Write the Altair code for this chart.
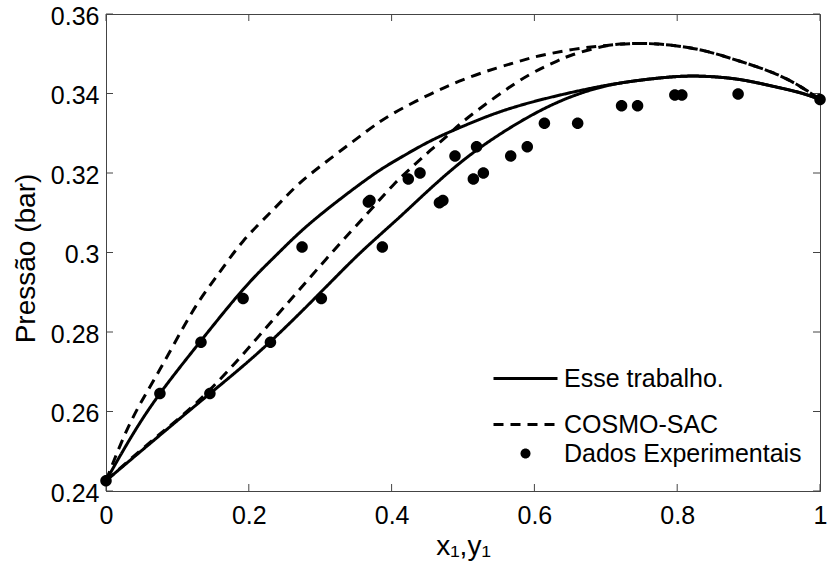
import altair as alt
import pandas as pd

# ---- model curves: "Esse trabalho." (solid) ----
et_vap_x = [0.0, 0.035, 0.0755, 0.133, 0.192, 0.2343, 0.2717, 0.3184, 0.3744, 0.4118, 0.4538,
            0.5005, 0.547, 0.5938, 0.6405, 0.6872, 0.7339, 0.7946, 0.8413, 0.888, 0.9346, 0.972, 1.0]
et_vap_p = [0.2426, 0.2535, 0.2645, 0.2778, 0.2907, 0.2986, 0.3051, 0.3121, 0.3196, 0.3238, 0.3280,
            0.3318, 0.3351, 0.3377, 0.3398, 0.3416, 0.3430, 0.3442, 0.3443, 0.3435, 0.3418, 0.3402, 0.3385]
et_liq_x = [0.0, 0.07, 0.1455, 0.2303, 0.3184, 0.365, 0.4118, 0.4538, 0.5005, 0.547, 0.5938,
            0.6405, 0.6872, 0.7339, 0.7946, 0.8413, 0.888, 0.9346, 0.972, 1.0]
et_liq_p = [0.2426, 0.2532, 0.2645, 0.2776, 0.2932, 0.3014, 0.3090, 0.3160, 0.3232, 0.3292, 0.3343,
            0.3384, 0.3413, 0.3430, 0.3442, 0.3443, 0.3435, 0.3418, 0.3402, 0.3385]

# ---- model curves: "COSMO-SAC" (dashed) ----
cs_vap_x = [0.0, 0.035, 0.0756, 0.12, 0.155, 0.1923, 0.2343, 0.2717, 0.3184, 0.365, 0.4024, 0.4538,
            0.5005, 0.547, 0.5845, 0.6078, 0.6545, 0.7012, 0.748, 0.7946, 0.8413, 0.888, 0.9346, 0.972, 1.0]
cs_vap_p = [0.2426, 0.2575, 0.2706, 0.2848, 0.2940, 0.3029, 0.3108, 0.3175, 0.3242, 0.3305, 0.3350, 0.3398,
            0.3435, 0.3464, 0.3484, 0.3495, 0.3511, 0.3521, 0.3526, 0.3521, 0.3506, 0.3481, 0.3452, 0.3418, 0.3385]
cs_liq_x = [0.0, 0.07, 0.1457, 0.2297, 0.2717, 0.3184, 0.365, 0.4024, 0.4304, 0.4538, 0.477, 0.5005,
            0.547, 0.5938, 0.631, 0.6545, 0.7012, 0.748, 0.7946, 0.8413, 0.888, 0.9346, 0.972, 1.0]
cs_liq_p = [0.2426, 0.2535, 0.2655, 0.2822, 0.2908, 0.3004, 0.3096, 0.3170, 0.3218, 0.3256, 0.3292, 0.3330,
            0.3393, 0.3448, 0.3481, 0.3498, 0.3520, 0.3526, 0.3521, 0.3506, 0.3481, 0.3452, 0.3418, 0.3385]

# ---- experimental data ----
exp_x = [0.0, 0.0755, 0.1455, 0.133, 0.2303, 0.192, 0.3016, 0.2746, 0.387,
         0.3674, 0.3697, 0.467, 0.4718, 0.4234, 0.5145, 0.4398, 0.5285, 0.4888, 0.5668,
         0.519, 0.590, 0.614, 0.6606, 0.7221, 0.7445, 0.7967, 0.8065, 0.8853, 1.0]
exp_p = [0.2426, 0.2645, 0.2645, 0.2774, 0.2774, 0.2884, 0.2884, 0.3014, 0.3014,
         0.3127, 0.3131, 0.3125, 0.3131, 0.3185, 0.3185, 0.3200, 0.3200, 0.3243, 0.3243,
         0.3266, 0.3266, 0.3325, 0.3325, 0.3369, 0.3369, 0.3396, 0.3396, 0.3399, 0.3385]

x_ticks = [0.0, 0.2, 0.4, 0.6, 0.8, 1.0]
y_ticks = [0.24, 0.26, 0.28, 0.30, 0.32, 0.34, 0.36]

LINE_SERIES = ["Esse trabalho.", "COSMO-SAC"]
POINT_SERIES = ["Dados Experimentais"]

W, H = 714, 477
FONT = "Liberation Sans"
AX = "#444444"

rows = []
for name, branch, xs, ps in [
    (LINE_SERIES[0], "vap", et_vap_x, et_vap_p),
    (LINE_SERIES[0], "liq", et_liq_x, et_liq_p),
    (LINE_SERIES[1], "vap", cs_vap_x, cs_vap_p),
    (LINE_SERIES[1], "liq", cs_liq_x, cs_liq_p),
]:
    for xv, pv in zip(xs, ps):
        rows.append({"x": xv, "p": pv, "serie": name, "ramo": name + branch})
df_lines = pd.DataFrame(rows)
df_pts = pd.DataFrame({"x": exp_x, "p": exp_p, "serie": POINT_SERIES[0]})
df_xt = pd.DataFrame({"v": x_ticks})
df_yt = pd.DataFrame({"v": y_ticks})

xscale = alt.Scale(domain=[0, 1], nice=False, zero=False)
yscale = alt.Scale(domain=[0.24, 0.36], nice=False, zero=False)

LINE_PATH = "M-3.2,0H3.2"
DOT_PATH = "M-0.5,0A0.5,0.5 0 1,0 0.5,0A0.5,0.5 0 1,0 -0.5,0Z"

x_axis = alt.Axis(
    values=x_ticks, format="~g", title="x₁,y₁", grid=False,
    ticks=True, tickSize=0, labelPadding=12, labelFlush=False, labelOverlap=False,
    titleBaseline="alphabetic", titleY=63, titleFontSize=28, titleFontWeight="normal",
)
y_axis = alt.Axis(
    values=y_ticks, format="~g", title="Pressão (bar)", grid=False,
    ticks=True, tickSize=0, labelPadding=7, labelFlush=False, labelOverlap=False, labelOffset=2,
    titleBaseline="alphabetic", titleX=-72, titleY=244, titleAlign="center",
    titleFontSize=28, titleFontWeight="normal",
)

LEG_X = 407
lines = alt.Chart(df_lines).mark_line(
    interpolate="natural", strokeWidth=3, color="black", strokeCap="butt"
).encode(
    x=alt.X("x:Q", scale=xscale, axis=x_axis),
    y=alt.Y("p:Q", scale=yscale, axis=y_axis),
    strokeDash=alt.StrokeDash(
        "serie:N",
        scale=alt.Scale(domain=LINE_SERIES, range=[[1, 0], [10, 7]]),
        legend=alt.Legend(
            title=None, orient="none", legendX=LEG_X, legendY=352,
            symbolType=LINE_PATH, symbolSize=400, symbolStrokeWidth=3,
            symbolStrokeColor="black", labelOffset=26, rowPadding=20,
        ),
    ),
    detail="ramo:N",
    order="x:Q",
)

points = alt.Chart(df_pts).mark_point(filled=True, color="black", opacity=1, size=529).encode(
    x=alt.X("x:Q", scale=xscale),
    y=alt.Y("p:Q", scale=yscale),
    shape=alt.Shape(
        "serie:N",
        scale=alt.Scale(domain=POINT_SERIES, range=[DOT_PATH]),
        legend=alt.Legend(
            title=None, orient="none", legendX=LEG_X, legendY=427,
            symbolSize=400, symbolFillColor="black", labelOffset=26,
        ),
    ),
)

TX = 7.0 / W
TY = 7.0 / H * 0.12

tick_left = alt.Chart(df_yt).mark_rule(color=AX, strokeWidth=1).encode(
    y="v:Q", x=alt.datum(0.0), x2=alt.datum(TX))
tick_right = alt.Chart(df_yt).mark_rule(color=AX, strokeWidth=1).encode(
    y="v:Q", x=alt.datum(1.0), x2=alt.datum(1.0 - TX))
tick_bottom = alt.Chart(df_xt).mark_rule(color=AX, strokeWidth=1).encode(
    x="v:Q", y=alt.datum(0.24), y2=alt.datum(0.24 + TY))
tick_top = alt.Chart(df_xt).mark_rule(color=AX, strokeWidth=1).encode(
    x="v:Q", y=alt.datum(0.36), y2=alt.datum(0.36 - TY))

chart = alt.layer(
    tick_left, tick_right, tick_bottom, tick_top, lines, points
).resolve_legend(
    strokeDash="independent", shape="independent"
).properties(
    width=W, height=H,
    autosize=alt.AutoSizeParams(type="none"),
    padding={"left": 106, "top": 14, "right": 7, "bottom": 81},
    background="white",
).configure_view(
    stroke=AX, strokeWidth=1
).configure_axis(
    labelFont=FONT, labelFontSize=25, labelColor="black",
    titleFont=FONT, titleColor="black",
    domainColor=AX, domainWidth=1,
).configure_legend(
    labelFont=FONT, labelFontSize=25, labelColor="black",
    padding=0, labelLimit=400,
)

chart.save("out.html", embed_options={"renderer": "svg", "actions": False})
